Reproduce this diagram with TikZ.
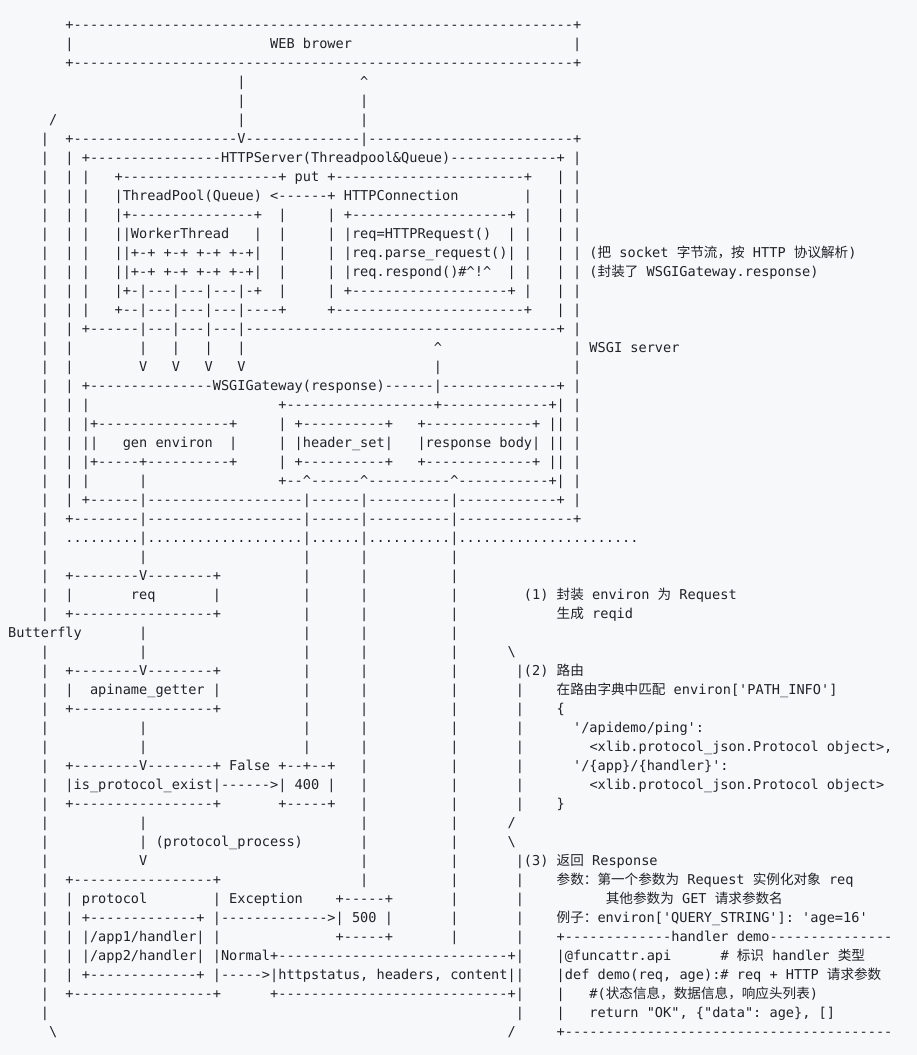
\documentclass[tikz,border=0pt]{standalone}
\usepackage{fontspec}
\setmonofont{DejaVu Sans Mono}
\newfontfamily\cjkf{Noto Sans CJK SC}
\frenchspacing
\definecolor{bg}{HTML}{F6F8FA}
\definecolor{ink}{HTML}{1F2328}
\newcommand\zh[1]{{\cjkf #1}}
\newcommand\spc[1]{\kern#1\fontcharwd\font`\M\relax}
\newcommand\bsl{\textbackslash}
\newcommand\crt{\textasciicircum}
\ExplSyntaxOn
\cs_new:Npn \dsh #1 { \prg_replicate:nn {#1} {-} }
\cs_new:Npn \dts #1 { \prg_replicate:nn {#1} {.} }
\ExplSyntaxOff
\newcommand\Ln[2]{\expandafter\def\csname ln#1\endcsname{#2}}
\newcommand\pre{\spc{4}|\spc{2}| |\spc{3}}
\newcommand\tailA{\spc{10}|\spc{6}|\spc{10}|}
\newcommand\baseA{\spc{4}|\spc{11}|\spc{19}|\spc{6}|\spc{10}|}
\Ln{1}{\spc{7}+\dsh{61}+}
\Ln{2}{\spc{7}|\spc{24}WEB brower\spc{27}|}
\Ln{3}{\spc{7}+\dsh{61}+}
\Ln{4}{\spc{28}|\spc{14}\crt}
\Ln{5}{\spc{28}|\spc{14}|}
\Ln{6}{\spc{5}/\spc{22}|\spc{14}|}
\Ln{7}{\spc{4}|\spc{2}+\dsh{20}V\dsh{14}|\dsh{25}+}
\Ln{8}{\spc{4}|\spc{2}| +\dsh{16}HTTPServer(Threadpool\&Queue)\dsh{13}+ |}
\Ln{9}{\pre+\dsh{19}+ put +\dsh{23}+\spc{3}| |}
\Ln{10}{\pre|ThreadPool(Queue) <\dsh{6}+ HTTPConnection\spc{8}|\spc{3}| |}
\Ln{11}{\pre|+\dsh{15}+\spc{2}|\spc{5}| +\dsh{19}+ |\spc{3}| |}
\Ln{12}{\pre||WorkerThread\spc{3}|\spc{2}|\spc{5}| |req=HTTPRequest()\spc{2}| |\spc{3}| |}
\Ln{13}{\pre||+\dsh{1}+ +\dsh{1}+ +\dsh{1}+ +\dsh{1}+|\spc{2}|\spc{5}| |req.parse\_request()| |\spc{3}| | (\zh{把} socket \zh{字节流，按} HTTP \zh{协议解析})}
\Ln{14}{\pre||+\dsh{1}+ +\dsh{1}+ +\dsh{1}+ +\dsh{1}+|\spc{2}|\spc{5}| |req.respond()\#\crt!\crt\spc{2}| |\spc{3}| | (\zh{封装了} WSGIGateway.response)}
\Ln{15}{\pre|+\dsh{1}|\dsh{3}|\dsh{3}|\dsh{3}|\dsh{1}+\spc{2}|\spc{5}| +\dsh{19}+ |\spc{3}| |}
\Ln{16}{\pre+\dsh{2}|\dsh{3}|\dsh{3}|\dsh{3}|\dsh{4}+\spc{5}+\dsh{23}+\spc{3}| |}
\Ln{17}{\spc{4}|\spc{2}| +\dsh{6}|\dsh{3}|\dsh{3}|\dsh{3}|\dsh{38}+ |}
\Ln{18}{\spc{4}|\spc{2}|\spc{8}|\spc{3}|\spc{3}|\spc{3}|\spc{23}\crt\spc{16}| WSGI server}
\Ln{19}{\spc{4}|\spc{2}|\spc{8}V\spc{3}V\spc{3}V\spc{3}V\spc{23}|\spc{16}|}
\Ln{20}{\spc{4}|\spc{2}| +\dsh{15}WSGIGateway(response)\dsh{6}|\dsh{14}+ |}
\Ln{21}{\spc{4}|\spc{2}| |\spc{23}+\dsh{18}+\dsh{13}+| |}
\Ln{22}{\spc{4}|\spc{2}| |+\dsh{16}+\spc{5}| +\dsh{10}+\spc{3}+\dsh{13}+ || |}
\Ln{23}{\spc{4}|\spc{2}| ||\spc{3}gen environ\spc{2}|\spc{5}| |header\_set|\spc{3}|response body| || |}
\Ln{24}{\spc{4}|\spc{2}| |+\dsh{5}+\dsh{10}+\spc{5}| +\dsh{10}+\spc{3}+\dsh{13}+ || |}
\Ln{25}{\spc{4}|\spc{2}| |\spc{6}|\spc{16}+\dsh{2}\crt\dsh{6}\crt\dsh{10}\crt\dsh{11}+| |}
\Ln{26}{\spc{4}|\spc{2}| +\dsh{6}|\dsh{19}|\dsh{6}|\dsh{10}|\dsh{12}+ |}
\Ln{27}{\spc{4}|\spc{2}+\dsh{8}|\dsh{19}|\dsh{6}|\dsh{10}|\dsh{14}+}
\Ln{28}{\spc{4}|\spc{2}\dts{9}|\dts{19}|\dts{6}|\dts{10}|\dts{22}}
\Ln{29}{\baseA}
\Ln{30}{\spc{4}|\spc{2}+\dsh{8}V\dsh{8}+\tailA}
\Ln{31}{\spc{4}|\spc{2}|\spc{7}req\spc{7}|\tailA\spc{8}(1) \zh{封装} environ \zh{为} Request}
\Ln{32}{\spc{4}|\spc{2}+\dsh{17}+\tailA\spc{12}\zh{生成} reqid}
\Ln{33}{Butterfly\spc{7}|\spc{19}|\spc{6}|\spc{10}|}
\Ln{34}{\baseA\spc{6}\bsl}
\Ln{35}{\spc{4}|\spc{2}+\dsh{8}V\dsh{8}+\tailA\spc{7}|(2) \zh{路由}}
\Ln{36}{\spc{4}|\spc{2}|\spc{2}apiname\_getter |\tailA\spc{7}|\spc{4}\zh{在路由字典中匹配} environ['PATH\_INFO']}
\Ln{37}{\spc{4}|\spc{2}+\dsh{17}+\tailA\spc{7}|\spc{4}\{}
\Ln{38}{\baseA\spc{7}|\spc{6}'/apidemo/ping':}
\Ln{39}{\baseA\spc{7}|\spc{8}<xlib.protocol\_json.Protocol object>,}
\Ln{40}{\spc{4}|\spc{2}+\dsh{8}V\dsh{8}+ False +\dsh{2}+\dsh{2}+\spc{3}|\spc{10}|\spc{7}|\spc{6}'/\{app\}/\{handler\}':}
\Ln{41}{\spc{4}|\spc{2}|is\_protocol\_exist|\dsh{6}>| 400 |\spc{3}|\spc{10}|\spc{7}|\spc{8}<xlib.protocol\_json.Protocol object>}
\Ln{42}{\spc{4}|\spc{2}+\dsh{17}+\spc{7}+\dsh{5}+\spc{3}|\spc{10}|\spc{7}|\spc{4}\}}
\Ln{43}{\spc{4}|\spc{11}|\spc{26}|\spc{10}|\spc{6}/}
\Ln{44}{\spc{4}|\spc{11}| (protocol\_process)\spc{7}|\spc{10}|\spc{6}\bsl}
\Ln{45}{\spc{4}|\spc{11}V\spc{26}|\spc{10}|\spc{7}|(3) \zh{返回} Response}
\Ln{46}{\spc{4}|\spc{2}+\dsh{17}+\spc{17}|\spc{10}|\spc{7}|\spc{4}\zh{参数：第一个参数为} Request \zh{实例化对象} req}
\Ln{47}{\spc{4}|\spc{2}| protocol\spc{8}| Exception\spc{4}+\dsh{5}+\spc{7}|\spc{7}|\spc{10}\zh{其他参数为} GET \zh{请求参数名}}
\Ln{48}{\spc{4}|\spc{2}| +\dsh{13}+ |\dsh{13}>| 500 |\spc{7}|\spc{7}|\spc{4}\zh{例子：}environ['QUERY\_STRING']: 'age=16'}
\Ln{49}{\spc{4}|\spc{2}| |/app1/handler| |\spc{14}+\dsh{5}+\spc{7}|\spc{7}|\spc{4}+\dsh{13}handler demo\dsh{15}}
\Ln{50}{\spc{4}|\spc{2}| |/app2/handler| |Normal+\dsh{28}+|\spc{4}|@funcattr.api\spc{6}\# \zh{标识} handler \zh{类型}}
\Ln{51}{\spc{4}|\spc{2}| +\dsh{13}+ |\dsh{5}>|httpstatus, headers, content||\spc{4}|def demo(req, age):\# req + HTTP \zh{请求参数}}
\Ln{52}{\spc{4}|\spc{2}+\dsh{17}+\spc{6}+\dsh{28}+|\spc{4}|\spc{3}\#(\zh{状态信息，数据信息，响应头列表})}
\Ln{53}{\spc{4}|\spc{57}|\spc{4}|\spc{3}return "OK", \{"data": age\}, []}
\Ln{54}{\spc{5}\bsl\spc{55}/\spc{5}+\dsh{40}}
\tikzset{asciiline/.style={anchor=base west, inner sep=0pt, outer sep=0pt,
  font=\ttfamily\fontsize{13.6}{19}\selectfont, text=ink}}
\begin{document}
\begin{tikzpicture}[x=1pt,y=1pt]
\useasboundingbox (0,0) rectangle (917,1055);
\fill[bg] (0,0) rectangle (917,1055);
\foreach \n in {1,...,54}{
  \node[asciiline] (l\n) at (8.16,{1025-19*(\n-1)}) {\csname ln\n\endcsname};
}
\end{tikzpicture}
\end{document}
